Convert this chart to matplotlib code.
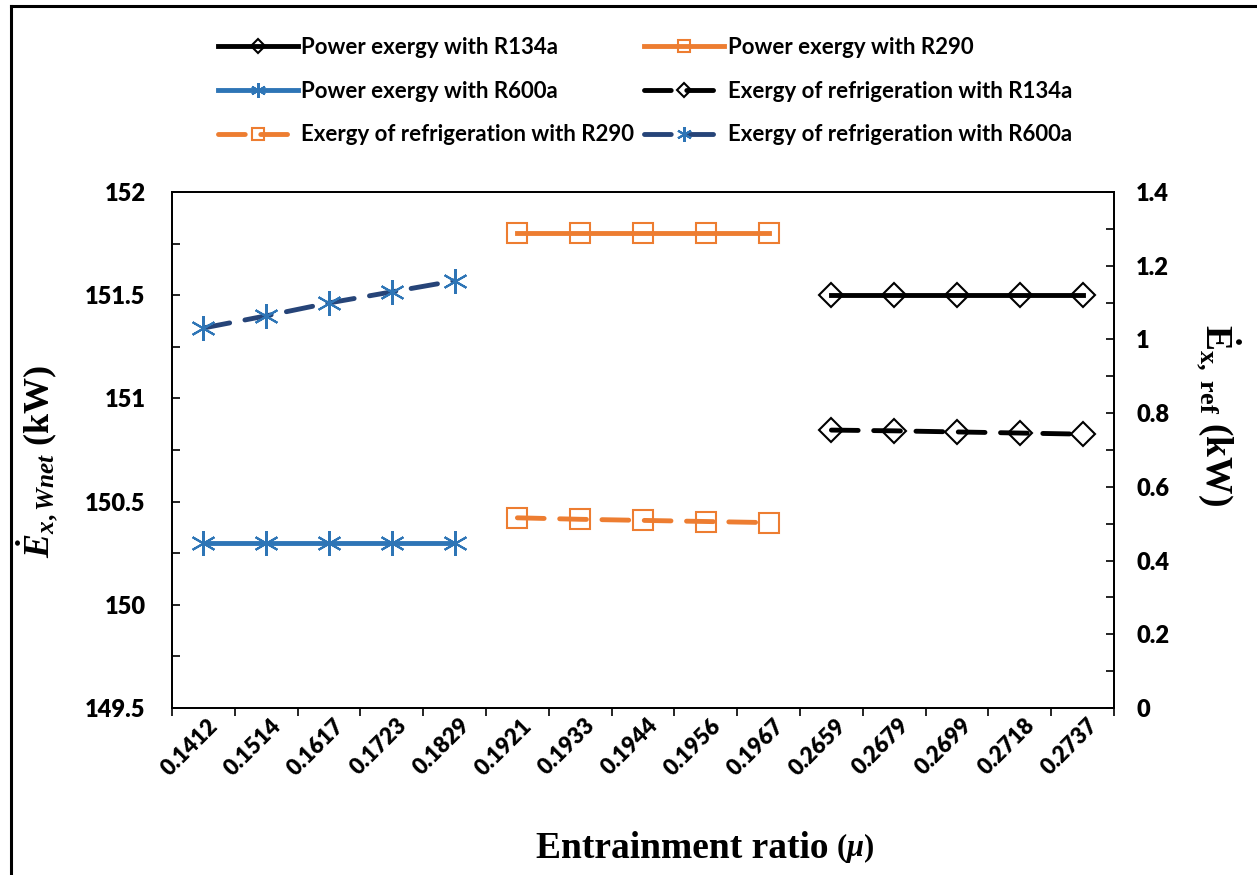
import numpy as np
import matplotlib
matplotlib.use("Agg")
import matplotlib.pyplot as plt
import matplotlib.transforms as mtransforms
from matplotlib.lines import Line2D
from matplotlib.ticker import MultipleLocator, FixedLocator, NullFormatter

plt.rcParams['font.family'] = ['Lato', 'DejaVu Sans']
plt.rcParams['font.weight'] = 'bold'
plt.rcParams['mathtext.fontset'] = 'custom'
plt.rcParams['mathtext.rm'] = 'Liberation Serif'
plt.rcParams['mathtext.it'] = 'Liberation Serif:italic:bold'
plt.rcParams['mathtext.bf'] = 'Liberation Serif:bold'

# entrainment ratio categories
mu_labels = ["0.1412", "0.1514", "0.1617", "0.1723", "0.1829",
             "0.1921", "0.1933", "0.1944", "0.1956", "0.1967",
             "0.2659", "0.2679", "0.2699", "0.2718", "0.2737"]
idx_r600a = [0, 1, 2, 3, 4]
idx_r290 = [5, 6, 7, 8, 9]
idx_r134a = [10, 11, 12, 13, 14]

# power exergy (kW), left axis
pow_r134a = [151.5, 151.5, 151.5, 151.5, 151.5]
pow_r290 = [151.8, 151.8, 151.8, 151.8, 151.8]
pow_r600a = [150.3, 150.3, 150.3, 150.3, 150.3]

# exergy of refrigeration (kW), right axis
ref_r134a = [0.754, 0.752, 0.749, 0.746, 0.743]
ref_r290 = [0.516, 0.512, 0.509, 0.506, 0.503]
ref_r600a = [1.031, 1.064, 1.099, 1.129, 1.159]

c_black = "#000000"
c_orange = "#ED7D31"
c_blue = "#2E75B6"
c_navy = "#264478"

fig = plt.figure(figsize=(12.57, 8.75), dpi=100)
ax = fig.add_axes([172/1257, 1-708/875, (1114-172)/1257, (708-192)/875])
ax2 = ax.twinx()

lw = 3.5
dash = (0, (5.5, 3.2))
ms = 15
ms_d = 12
ms_a = 18

ax.plot(idx_r134a, pow_r134a, color=c_black, lw=lw, marker='D', ms=ms_d,
        mfc='none', mec=c_black, mew=1.5, label="Power exergy with R134a")
ax.plot(idx_r290, pow_r290, color=c_orange, lw=lw, marker='s', ms=ms,
        mfc='none', mec=c_orange, mew=1.5, label="Power exergy with R290")
ax.plot(idx_r600a, pow_r600a, color=c_blue, lw=lw, marker=(6, 2, 0), ms=ms_a,
        mec=c_blue, mew=1.5, label="Power exergy with R600a")

ax2.plot(idx_r134a, ref_r134a, color=c_black, lw=lw, ls=dash, dash_capstyle='round',
         marker='D', ms=ms_d, mfc='none', mec=c_black, mew=1.5,
         label="Exergy of refrigeration with R134a")
ax2.plot(idx_r290, ref_r290, color=c_orange, lw=lw, ls=dash, dash_capstyle='round',
         marker='s', ms=ms, mfc='none', mec=c_orange, mew=1.5,
         label="Exergy of refrigeration with R290")
ax2.plot(idx_r600a, ref_r600a, color=c_navy, lw=lw, ls=dash, dash_capstyle='round',
         marker=(6, 2, 0), ms=ms_a, mec=c_blue, mew=1.5,
         label="Exergy of refrigeration with R600a")

ax.set_xlim(-0.5, 14.5)
ax.set_ylim(149.5, 152)
ax2.set_ylim(0, 1.4)

# x ticks: marks at category boundaries, labels at centres
x = np.arange(len(mu_labels))
ax.xaxis.set_major_locator(FixedLocator(np.arange(-0.5, 15, 1.0)))
ax.xaxis.set_major_formatter(NullFormatter())
ax.xaxis.set_minor_locator(FixedLocator(x))
ax.set_xticklabels(mu_labels, minor=True)
ax.tick_params(axis='x', which='major', direction='out', length=6, width=1.2)
ax.tick_params(axis='x', which='minor', length=0, pad=5, labelsize=16)
offset = mtransforms.ScaledTranslation(4/100, 0, fig.dpi_scale_trans)
for lab in ax.xaxis.get_minorticklabels():
    lab.set_rotation(45)
    lab.set_ha('right')
    lab.set_va('top')
    lab.set_rotation_mode('anchor')
    lab.set_fontweight('heavy')
    lab.set_transform(lab.get_transform() + offset)

ax.yaxis.set_major_locator(MultipleLocator(0.5))
ax.yaxis.set_minor_locator(MultipleLocator(0.25))
ax.yaxis.set_major_formatter(plt.FuncFormatter(lambda v, p: f"{v:g}"))
ax.tick_params(axis='y', which='both', direction='in', length=6, width=1.2,
               labelsize=17, pad=19)
ax2.yaxis.set_major_locator(MultipleLocator(0.2))
ax2.yaxis.set_minor_locator(MultipleLocator(0.1))
ax2.yaxis.set_major_formatter(plt.FuncFormatter(lambda v, p: f"{v:g}"))
ax2.tick_params(axis='y', which='both', direction='in', length=6, width=1.2,
                labelsize=17, pad=16)
for lab in ax.get_yticklabels() + ax2.get_yticklabels():
    lab.set_fontweight('heavy')

for a in (ax, ax2):
    for s in a.spines.values():
        s.set_linewidth(1.3)

ax.set_ylabel(r"$\dot{E}_{x,Wnet}$ (kW)", family='Liberation Serif',
              fontsize=26, fontweight='bold')
ax.yaxis.set_label_coords((60-172)/942, (708-462)/516)
ax2.set_ylabel(r"$\dot{\mathbf{E}}_{\mathrm{x,\ ref}}$ (kW)", family='Liberation Serif',
               fontsize=27, fontweight='bold', rotation=270, va='center')
ax2.yaxis.set_label_coords((1218-172)/942, (708-415)/516)

fig.text(829/1257, 1-858/875, "Entrainment ratio", family='Liberation Serif',
         fontsize=27, fontweight='bold', ha='right', va='baseline')
fig.text(836/1257, 1-856/875, r"($\mu$)", family='Liberation Serif',
         fontsize=22, fontweight='bold', ha='left', va='baseline')

handles = []
labels = []
for a in (ax, ax2):
    h, l = a.get_legend_handles_labels()
    handles += h
    labels += l
# fill the two legend columns row by row
order = [0, 2, 4, 1, 3, 5]
fig.legend([handles[i] for i in order], [labels[i] for i in order], ncol=2,
           frameon=False, loc='upper left',
           bbox_to_anchor=(198/1257, 1-17/875),
           prop={'weight': 'bold', 'size': 16},
           handlelength=3.6, handletextpad=0.15, columnspacing=0.45,
           labelspacing=1.02, markerscale=0.6)

# outer frame lines
fig.add_artist(Line2D([11/1257, 11/1257], [0, 1-6/875], color='black', lw=2.2,
                      transform=fig.transFigure))
fig.add_artist(Line2D([11/1257, 1], [1-6/875, 1-6/875], color='black', lw=2.2,
                      transform=fig.transFigure))

fig.savefig("out.png", dpi=100)
